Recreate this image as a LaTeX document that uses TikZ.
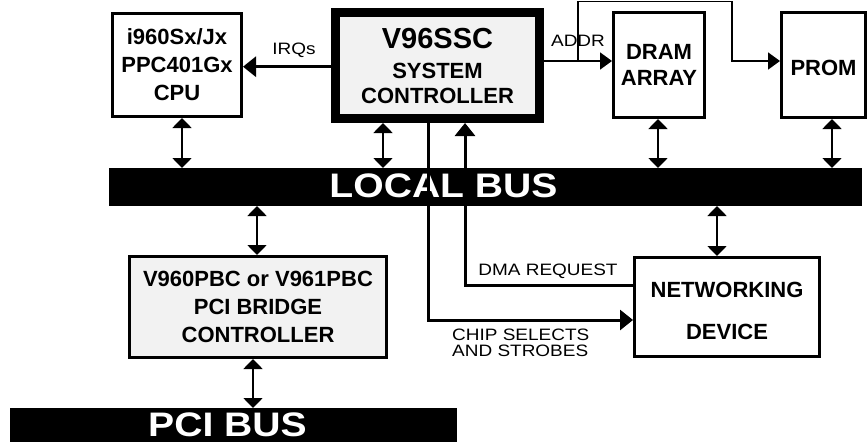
\documentclass[tikz,border=0pt]{standalone}
\usepackage{fontspec}
\usepackage{graphicx}
\setmainfont{Liberation Sans}
\usetikzlibrary{arrows.meta,calc}
\definecolor{boxgray}{gray}{0.95}
\begin{document}
\begin{tikzpicture}[x=1pt,y=-1pt,
  box/.style={draw,line width=3pt,fill=white,inner sep=0pt,align=center,
    font=\bfseries\fontsize{22}{28}\selectfont},
  busbar/.style={fill=black,draw=none,inner sep=0pt,outer sep=0pt},
  bustext/.style={text=white,inner sep=0pt,font=\bfseries\fontsize{34}{34}\selectfont},
  lbl/.style={inner sep=0pt,font=\fontsize{16.5}{15}\selectfont},
  bi/.style={line width=1.8pt,{Triangle[width=19pt,length=10pt]}-{Triangle[width=19pt,length=10pt]}},
  sig/.style={line width=3pt,-{Triangle[width=20pt,length=13pt]}},
  addr/.style={line width=1.8pt,-{Triangle[width=17pt,length=12pt]}}
]
\useasboundingbox (0,0) rectangle (867,442);

% boxes
\node[box,minimum width=129pt,minimum height=103pt] (cpu) at (177,65)
  {i960Sx/Jx\\PPC401Gx\\CPU};
\node[box,line width=9pt,fill=boxgray,minimum width=204pt,minimum height=106pt] (ssc) at (437.5,65.5)
  {{\fontsize{29}{29}\selectfont V96SSC}\\[2pt]SYSTEM\\[-3pt]CONTROLLER};
\node[box,minimum width=91pt,minimum height=105pt] (dram) at (659,65) {DRAM\\[-2pt]ARRAY};
\node[box,minimum width=84pt,minimum height=105pt] (prom) at (823.5,65) {\rule{0pt}{22pt}PROM};
\node[busbar,minimum width=753pt,minimum height=38pt] (lbus) at (485.5,187) {};
\node[bustext] (lbustext) at (443.5,186) {\scalebox{1.15}[1]{LOCAL BUS}};
\node[box,fill=boxgray,minimum width=257pt,minimum height=101pt] (pbc) at (258,307)
  {V960PBC or V961PBC\\PCI BRIDGE\\CONTROLLER};
\node[box,minimum width=185pt,minimum height=99pt] (net) at (727,307)
  {\rule{0pt}{24pt}NETWORKING\\[14pt]DEVICE};
\node[busbar,minimum width=447pt,minimum height=34pt] (pci) at (233.5,425) {};
\node[bustext] (pcitext) at (227.5,425) {\scalebox{1.15}[1]{PCI BUS}};

% connector end points
\coordinate (cpuB) at ($(cpu.south)+(5,0)$);
\coordinate (sscB) at ($(ssc.south)+(-54.5,0)$);
\coordinate (dramB) at ($(dram.south)+(-1,0)$);
\coordinate (promB) at ($(prom.south)+(8.5,0)$);
\coordinate (pbcT) at ($(pbc.north)+(-1,0)$);
\coordinate (netT) at ($(net.north)+(-10,0)$);
\coordinate (pbcB) at ($(pbc.south)+(-5,0)$);
\coordinate (irqS) at ($(ssc.west)+(0,1.2)$);
\coordinate (csS) at ($(ssc.south)+(-9.5,0)$);
\coordinate (csN) at ($(net.west)+(0,13)$);
\coordinate (dmaN) at ($(net.west)+(0,-22)$);
\coordinate (dmaS) at ($(ssc.south)+(27.5,0)$);
\coordinate (addrS) at ($(ssc.east)+(0,-4.5)$);
\coordinate (ab) at ($(ssc.east)+(34,-4.5)$);
\coordinate (tr) at (732,1.5);

% bus connections
\draw[bi] (cpuB) -- (cpuB |- lbus.north);
\draw[bi] (sscB) -- (sscB |- lbus.north);
\draw[bi] (dramB) -- (dramB |- lbus.north);
\draw[bi] (promB) -- (promB |- lbus.north);
\draw[bi] (pbcT |- lbus.south) -- (pbcT);
\draw[bi] (netT |- lbus.south) -- (netT);
\draw[bi] (pbcB) -- (pbcB |- pci.north);

% signals
\draw[sig] (irqS) -- (irqS -| cpu.east);
\node[lbl] (irq) at (294,50) {\scalebox{1.15}[1]{IRQs}};

\draw[sig] (csS) |- (csN);
\draw[sig] (dmaN) -| (dmaS);
\node[lbl] (dma) at (548,271) {\scalebox{1.15}[1]{DMA REQUEST}};
\node[lbl,anchor=west] (chip) at (452,344.5)
  {\scalebox{1.15}[1]{\begin{tabular}{@{}l@{}}CHIP SELECTS\\AND STROBES\end{tabular}}};

% address
\draw[addr] (addrS) -- (addrS -| dram.west);
\draw[addr] (ab) |- (tr) |- (prom.west |- ab);
\node[lbl] (addrl) at (578,41) {\scalebox{1.15}[1]{ADDR}};
\end{tikzpicture}
\end{document}
